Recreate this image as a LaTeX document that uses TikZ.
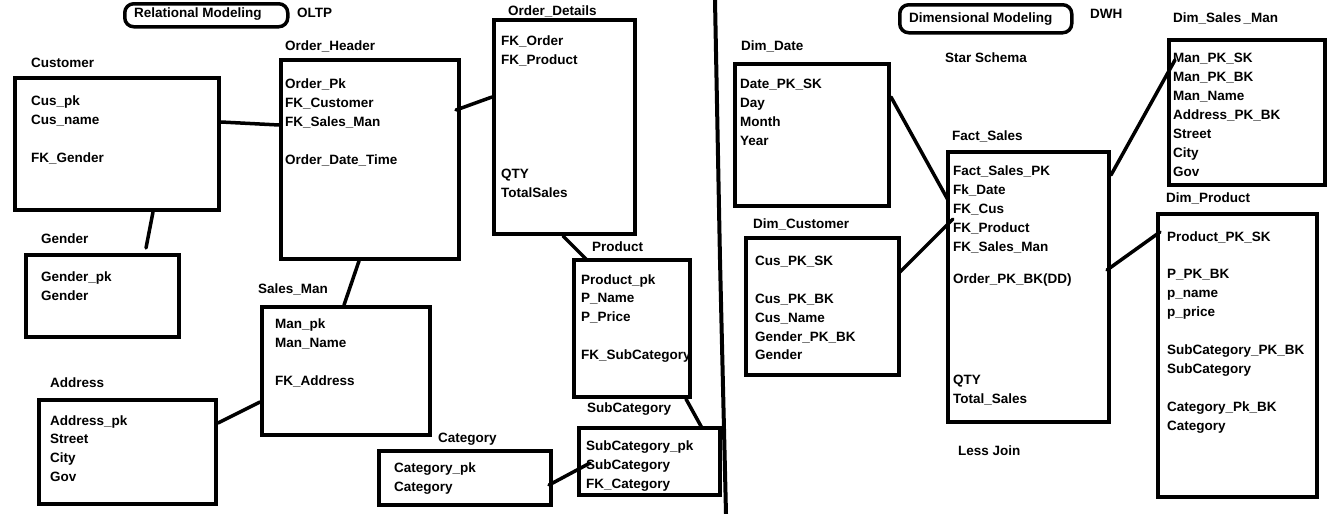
\documentclass[tikz,border=0pt]{standalone}
\usepackage{fontspec}
\setmainfont{Liberation Sans}
\usetikzlibrary{calc}

% one column of field names: prefix, x, list of y/text (y = middle of the caps)
\newcommand\fieldlist[3]{%
  \foreach \fy/\ftxt [count=\fnum] in {#3} {\node[fld] (#1-\fnum) at (#2,\fy+5) {\ftxt};}}

\begin{document}
\begin{tikzpicture}[x=1pt,y=-1pt,
  every node/.style={font=\bfseries\fontsize{13.5}{19}\selectfont, inner sep=0pt},
  tbl/.style={draw, line width=4pt, anchor=north west, inner sep=0pt},
  fld/.style={anchor=base west},
  lbl/.style={anchor=base west},
  link/.style={line width=3.5pt, line cap=round},
  heading/.style={draw, line width=3.5pt, rounded corners=9pt, anchor=north west, inner sep=0pt}]
\useasboundingbox (0,0) rectangle (1344,514);

% ---------- headings ----------
\node[heading, minimum width=163pt, minimum height=23pt] (relbox) at (123,2) {};
\node[lbl] (reltxt) at (134,17) {Relational Modeling};
\node[lbl] (oltp) at (297,17) {OLTP};
\node[heading, minimum width=172pt, minimum height=28pt] (dimbox) at (898,3) {};
\node[lbl] (dimtxt) at (909,22) {Dimensional Modeling};
\node[lbl] (dwh) at (1090,18) {DWH};
\node[lbl] (star) at (945,62) {Star Schema};
\node[lbl] (less) at (958,455) {Less Join};

% ---------- table titles ----------
\node[lbl] (t-cust) at (31,67) {Customer};
\node[lbl] (t-oh) at (285,50) {Order\_Header};
\node[lbl] (t-gen) at (41,243) {Gender};
\node[lbl] (t-sm) at (258,293) {Sales\_Man};
\node[lbl] (t-addr) at (50,387) {Address};
\node[lbl] (t-od) at (508,16) {Order\_Details};
\node[lbl] (t-prod) at (592,251) {Product};
\node[lbl] (t-sub) at (587,412) {SubCategory};
\node[lbl] (t-cat) at (438,442) {Category};
\node[lbl] (t-date) at (741,50) {Dim\_Date};
\node[lbl] (t-fact) at (952,140) {Fact\_Sales};
\node[lbl] (t-dcust) at (753,228) {Dim\_Customer};
\node[lbl] (t-dsm) at (1173,23) {Dim\_Sales\,\_Man};
\node[lbl] (t-dprod) at (1166,202) {Dim\_Product};

% ---------- fields ----------
\fieldlist{f-cust}{31}{100/Cus\_pk, 119/Cus\_name, 157/FK\_Gender}
\fieldlist{f-oh}{285}{83/Order\_Pk, 102/FK\_Customer, 121/FK\_Sales\_Man, 159/Order\_Date\_Time}
\fieldlist{f-gen}{41}{276/Gender\_pk, 295/Gender}
\fieldlist{f-sm}{275}{323/Man\_pk, 342/Man\_Name, 380/FK\_Address}
\fieldlist{f-addr}{50}{420/Address\_pk, 438/Street, 457/City, 476/Gov}
\fieldlist{f-od}{501}{40/FK\_Order, 59/FK\_Product, 173/QTY, 192/TotalSales}
\fieldlist{f-prod}{581}{279/Product\_pk, 297/P\_Name, 316/P\_Price, 354/FK\_SubCategory}
\fieldlist{f-sub}{586}{445/SubCategory\_pk, 464/SubCategory, 483/FK\_Category}
\fieldlist{f-cat}{394}{467/Category\_pk, 486/Category}
\fieldlist{f-date}{740}{83/Date\_PK\_SK, 102/Day, 121/Month, 140/Year}
\fieldlist{f-fact}{953}{170/Fact\_Sales\_PK, 189/Fk\_Date, 208/FK\_Cus, 227/FK\_Product, 246/FK\_Sales\_Man, 278/Order\_PK\_BK(DD), 379/QTY, 398/Total\_Sales}
\fieldlist{f-dcust}{755}{260/Cus\_PK\_SK, 298/Cus\_PK\_BK, 317/Cus\_Name, 336/Gender\_PK\_BK, 354/Gender}
\fieldlist{f-dsm}{1173}{57/Man\_PK\_SK, 76/Man\_PK\_BK, 95/Man\_Name, 114/Address\_PK\_BK, 133/Street, 152/City, 171/Gov}
\fieldlist{f-dprod}{1167}{236/Product\_PK\_SK, 273/P\_PK\_BK, 292/p\_name, 311/p\_price, 349/SubCategory\_PK\_BK, 368/SubCategory, 406/Category\_Pk\_BK, 425/Category}

% ---------- table boxes ----------
\node[tbl, minimum width=204pt, minimum height=132pt] (cust) at (13,76) {};
\node[tbl, minimum width=178pt, minimum height=199pt] (oh) at (279,58) {};
\node[tbl, minimum width=153pt, minimum height=82pt] (gen) at (24,253) {};
\node[tbl, minimum width=168pt, minimum height=128pt] (sm) at (260,305) {};
\node[tbl, minimum width=177pt, minimum height=104pt] (addr) at (37,398) {};
\node[tbl, minimum width=141pt, minimum height=214pt] (od) at (492,18) {};
\node[tbl, minimum width=116pt, minimum height=137pt] (prod) at (572,258) {};
\node[tbl, minimum width=141pt, minimum height=67pt] (sub) at (577,426) {};
\node[tbl, minimum width=172pt, minimum height=54pt] (cat) at (377,449) {};
\node[tbl, minimum width=154pt, minimum height=142pt] (date) at (733,62) {};
\node[tbl, minimum width=161pt, minimum height=270pt] (fact) at (946,150) {};
\node[tbl, minimum width=153pt, minimum height=137pt] (dcust) at (744,236) {};
\node[tbl, minimum width=156pt, minimum height=145pt] (dsm) at (1167,38) {};
\node[tbl, minimum width=159pt, minimum height=283pt] (dprod) at (1156,212) {};

% ---------- relational links ----------
\draw[link] ($(cust.north east)+(0,46)$) -- ($(oh.north west)+(0,67)$);
\draw[link] ($(cust.south west)+(140,0)$) -- ($(gen.north west)+(122,-5)$);
\draw[link] ($(oh.south west)+(80,0)$) -- ($(sm.north west)+(84,0)$);
\draw[link] ($(addr.north east)+(0,25)$) -- ($(sm.north west)+(0,97)$);
\draw[link] ($(oh.north east)+(-5,52)$) -- ($(od.north west)+(0,79)$);
\draw[link] ($(od.south west)+(71,0)$) -- ($(prod.north west)+(15,2)$);
\draw[link] ($(prod.south west)+(114,0)$) -- ($(sub.north west)+(125,2)$);
\draw[link] ($(cat.north east)+(-4,36)$) -- ($(sub.north west)+(13,37)$);

% ---------- star schema links ----------
\draw[link] ($(date.north east)+(0,35)$) -- ($(fact.north west)+(2,50)$);
\draw[link] ($(dcust.north east)+(-2,37)$) -- ($(fact.north west)+(7,69)$);
\draw[link] ($(fact.north east)+(0,25)$) -- ($(dsm.north west)+(8,22)$);
\draw[link] ($(fact.north east)+(-4,120)$) -- ($(dprod.north west)+(4,20)$);

% ---------- divider ----------
\draw[line width=4pt] (715,0) -- (720,260) -- (726,514);
\end{tikzpicture}
\end{document}
